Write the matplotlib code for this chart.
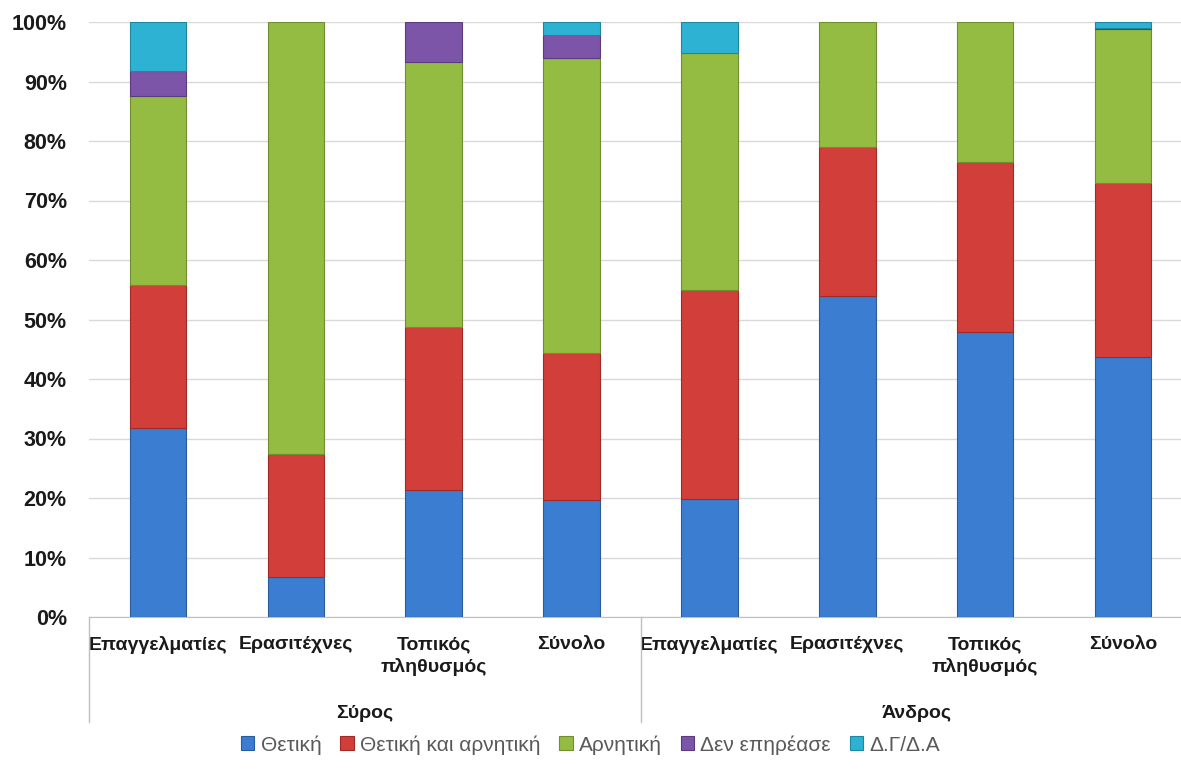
import matplotlib
matplotlib.use("Agg")
import matplotlib.pyplot as plt
import matplotlib.transforms as mtransforms
import numpy as np

plt.rcParams['font.family'] = ['Liberation Sans', 'DejaVu Sans']

categories = ["Επαγγελματίες", "Ερασιτέχνες", "Τοπικός\nπληθυσμός", "Σύνολο",
              "Επαγγελματίες", "Ερασιτέχνες", "Τοπικός\nπληθυσμός", "Σύνολο"]
groups = ["Σύρος", "Άνδρος"]
series_names = ["Θετική", "Θετική και αρνητική", "Αρνητική", "Δεν επηρέασε", "Δ.Γ/Δ.Α"]

thetiki = [31.8, 6.7, 21.3, 19.7, 19.8, 54.0, 47.9, 43.7]
thetiki_arnitiki = [24.0, 20.7, 27.4, 24.7, 35.2, 25.0, 28.6, 29.2]
arnitiki = [31.8, 72.6, 44.5, 49.5, 39.8, 21.0, 23.5, 25.9]
den_epirease = [4.2, 0.0, 6.8, 3.9, 0.0, 0.0, 0.0, 0.2]
dg_da = [8.2, 0.0, 0.0, 2.2, 5.2, 0.0, 0.0, 1.0]

series = [thetiki, thetiki_arnitiki, arnitiki, den_epirease, dg_da]
colors = ["#3B7DD0", "#D23F3A", "#94BC42", "#7D55A8", "#2EB2D3"]
edges = ["#2A5C9C", "#9E2B27", "#6F8E2E", "#5A3C7E", "#1F86A0"]

fig = plt.figure(figsize=(11.81, 7.71), dpi=100)
ax = fig.add_axes([89/1181, 1-617/771, (1192-89)/1181, (617-22)/771])

x = np.arange(len(categories))
bottom = np.zeros(len(categories))
for name, vals, c, ec in zip(series_names, series, colors, edges):
    v = np.array(vals)
    m = v > 0
    ax.bar(x[m], v[m], width=0.41, bottom=bottom[m], color=c, edgecolor=ec,
           linewidth=0.8, label=name, zorder=3)
    bottom += v

ax.set_xlim(-0.5, 7.5)
ax.set_ylim(0, 100)
ax.set_yticks(np.arange(0, 101, 10))
ax.set_yticklabels([f"{t}%" for t in range(0, 101, 10)], fontsize=15.5, fontweight='bold',
                   color='#1a1a1a')
ax.yaxis.grid(True, color='#D9D9D9', linewidth=1, zorder=0)
ax.tick_params(axis='y', length=0, pad=16)
ax.set_xticks(x)
ax.set_xticklabels(categories, fontsize=14, fontweight='bold', color='#1a1a1a',
                   linespacing=1.3)
ax.tick_params(axis='x', length=0, pad=14)
for s in ['top', 'right', 'left']:
    ax.spines[s].set_visible(False)
ax.spines['bottom'].set_color('#BFBFBF')

trans = mtransforms.blended_transform_factory(ax.transData, ax.transAxes)
for xb in [-0.5, 3.5]:
    ax.plot([xb, xb], [0, -(722-617)/595], transform=trans, color='#BFBFBF',
            linewidth=1, clip_on=False)
for gi, g in enumerate(groups):
    ax.text(1.5 + 4*gi, -(714-617)/595, g, transform=trans, ha='center', va='center',
            fontsize=14, fontweight='bold', color='#1a1a1a')

leg = fig.legend(loc='center', bbox_to_anchor=(0.5, 1-745/771), ncol=5, frameon=False,
                 fontsize=15, handlelength=0.65, handleheight=0.65, handletextpad=0.3,
                 columnspacing=0.9)
for t in leg.get_texts():
    t.set_color('#595959')

fig.savefig("out.png", dpi=100)
